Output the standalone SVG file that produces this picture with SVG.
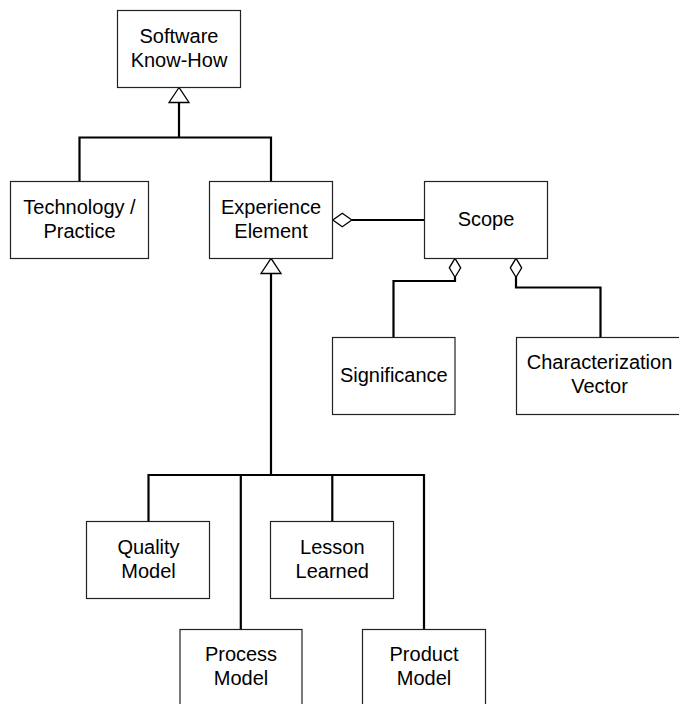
<svg xmlns="http://www.w3.org/2000/svg" width="679" height="704" viewBox="0 0 679 704">
<style>
.box{fill:#fff;stroke:#222;stroke-width:1.2}
.t{font-family:"Liberation Sans",Arial,sans-serif;font-size:20px;fill:#000;text-anchor:middle}
.c{fill:none;stroke:#000;stroke-width:2.2}
.head{fill:#fff;stroke:#000;stroke-width:1.3}
</style>
<rect width="679" height="704" fill="#fff"/>
<g id="connectors">
<polyline class="c" points="79.5,181 79.5,137.5 271,137.5 271,181"/>
<line class="c" x1="179" y1="137.5" x2="179" y2="102.5"/>
<polygon class="head" points="179,87.5 169,102.5 189,102.5"/>
<line class="c" x1="352" y1="220" x2="424.5" y2="220"/>
<polygon class="head" points="332.8,220 342.3,213.3 351.8,220 342.3,226.7"/>
<polyline class="c" points="455,277 455,281 393.5,281 393.5,337"/>
<polygon class="head" points="455,258.3 460.7,267.8 455,277.3 449.3,267.8"/>
<polyline class="c" points="516,277 516,287.5 600.5,287.5 600.5,337"/>
<polygon class="head" points="516,258.3 521.7,267.8 516,277.3 510.3,267.8"/>
<line class="c" x1="271" y1="273.5" x2="271" y2="475"/>
<polygon class="head" points="271,258.3 261,273.5 281,273.5"/>
<polyline class="c" points="148.5,521.5 148.5,475 424,475 424,629"/>
<line class="c" x1="240.8" y1="475" x2="240.8" y2="629"/>
<line class="c" x1="332.3" y1="475" x2="332.3" y2="521.5"/>
</g>
<g id="software-know-how">
<rect class="box" x="117.5" y="10.5" width="123" height="77"/>
<text class="t" x="179" y="43">Software</text>
<text class="t" x="179" y="67">Know-How</text>
</g>
<g id="technology-practice">
<rect class="box" x="10.5" y="181.5" width="138" height="77"/>
<text class="t" x="79.5" y="214">Technology /</text>
<text class="t" x="79.5" y="238">Practice</text>
</g>
<g id="experience-element">
<rect class="box" x="209.5" y="181.5" width="123" height="77"/>
<text class="t" x="271" y="214">Experience</text>
<text class="t" x="271" y="238">Element</text>
</g>
<g id="scope">
<rect class="box" x="424.5" y="181.5" width="123" height="77"/>
<text class="t" x="486" y="225.5">Scope</text>
</g>
<g id="significance">
<rect class="box" x="332.5" y="337.5" width="122.5" height="77"/>
<text class="t" x="393.8" y="382">Significance</text>
</g>
<g id="characterization-vector">
<rect class="box" x="516.5" y="337.5" width="166" height="77"/>
<text class="t" x="599.5" y="369">Characterization</text>
<text class="t" x="599.5" y="393">Vector</text>
</g>
<g id="quality-model">
<rect class="box" x="86.5" y="521.5" width="123" height="77"/>
<text class="t" x="148.5" y="554">Quality</text>
<text class="t" x="148.5" y="578">Model</text>
</g>
<g id="lesson-learned">
<rect class="box" x="270.5" y="521.5" width="123" height="77"/>
<text class="t" x="332.3" y="554">Lesson</text>
<text class="t" x="332.3" y="578">Learned</text>
</g>
<g id="process-model">
<rect class="box" x="180" y="629.5" width="122" height="77"/>
<text class="t" x="241" y="661">Process</text>
<text class="t" x="241" y="685">Model</text>
</g>
<g id="product-model">
<rect class="box" x="362.5" y="629.5" width="123" height="77"/>
<text class="t" x="424" y="661">Product</text>
<text class="t" x="424" y="685">Model</text>
</g>
</svg>
